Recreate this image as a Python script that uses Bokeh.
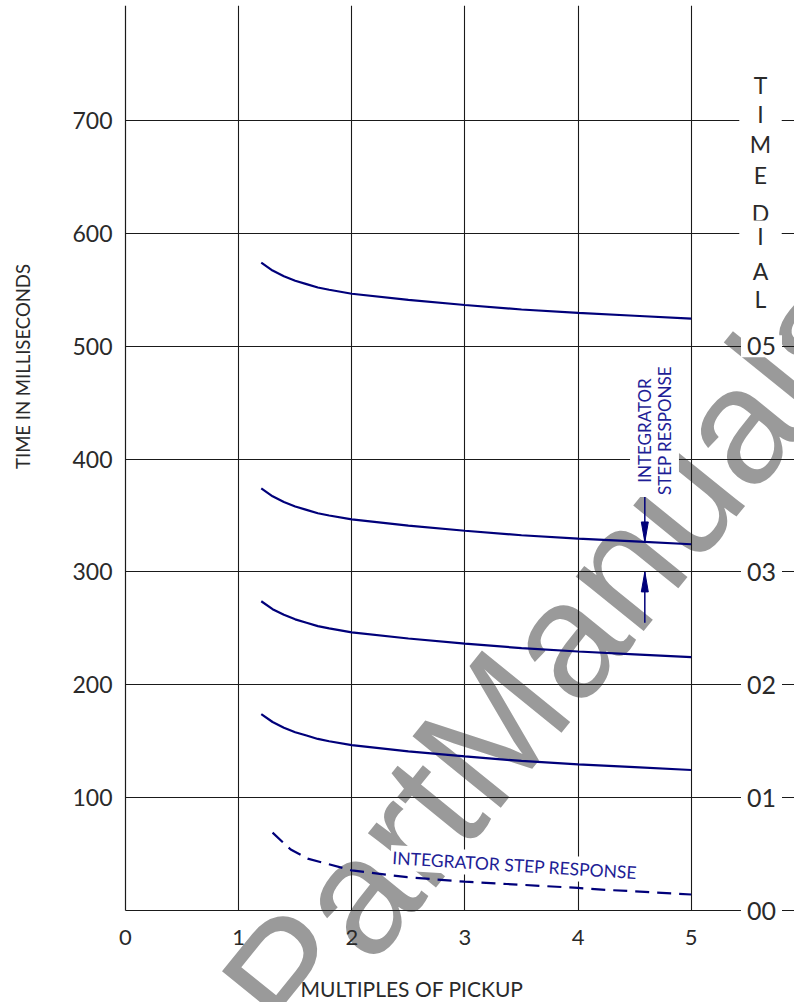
import math
import numpy as np
from bokeh.plotting import figure
from bokeh.models import Range1d, FixedTicker, Label, Grid
from bokeh.embed import file_html
from bokeh.resources import INLINE

# ---------------- data ----------------
multiples = [1.2, 1.3, 1.4, 1.5, 1.6, 1.7, 1.8, 2.0, 2.5, 3.0, 3.5, 4.0, 4.5, 5.0]
time_dial_05 = [574, 567, 562, 558, 555, 552, 550, 546.5, 541, 536.5, 532.5, 529.5, 527, 524.5]
time_dial_03 = [374, 367, 362, 358, 355, 352, 350, 346.5, 341, 336.5, 332.5, 329.5, 327, 324.5]
time_dial_02 = [274, 267, 262, 258, 255, 252, 250, 246.5, 241, 236.5, 232.5, 229.5, 227, 224.5]
time_dial_01 = [174, 167, 162, 158, 155, 152, 150, 146.5, 141, 136.5, 132.5, 129.5, 127, 124.5]

step_multiples = [1.3, 1.46, 1.61, 2.0, 2.49, 3.0, 3.37, 4.0, 4.26, 4.5, 5.0]
step_response = [69, 54, 46, 35.5, 29.5, 25.5, 23.5, 20, 18.2, 17, 14.2]

x_ticks = [0, 1, 2, 3, 4, 5]
y_ticks = [100, 200, 300, 400, 500, 600, 700]
y_grid = [0, 100, 200, 300, 400, 500, 600, 700]
x_grid = [1, 2, 3, 4, 5]

dial_values = [0, 100, 200, 300, 500]
dial_labels = ["00", "01", "02", "03", "05"]
dial_title_letters = ["T", "I", "M", "E", "D", "I", "A", "L"]
dial_title_y = [731, 706, 679, 652, 618, 598, 567, 542]

ARROW_X = 4.59
CURVE = "#00007a"
TEXT_BLUE = "#1e1e96"
INK = "#2a2a2a"
FONT = "Lato"

# page geometry: x=0 at px 125, y=0 at px 910
PX_X = 113.14
PX_Y = 1.1286
X0, Y0, W, H, TOP = 125, 910, 794, 1002, 5


def dx(px):
    return (px - X0) / PX_X


def dy(py):
    return (Y0 - py) / PX_Y


X_END = dx(W)
Y_TOP = dy(TOP)

p = figure(width=W, height=H,
           x_range=Range1d(dx(0), X_END), y_range=Range1d(dy(H), Y_TOP),
           output_backend="svg", toolbar_location=None,
           min_border_left=0, min_border_right=0, min_border_top=TOP, min_border_bottom=0)
p.outline_line_color = None
p.background_fill_color = "white"
p.border_fill_color = "white"

# watermark (behind everything)
p.add_layout(Label(x=dx(257), y=dy(1017), text="PartManuals", text_font="Liberation Sans",
                   text_font_size="165px", text_color="#9a9a9a", angle=math.radians(51),
                   text_align="left", text_baseline="alphabetic", level="image"))

# axes placed at the origin
p.xaxis.fixed_location = 0
p.xaxis.ticker = FixedTicker(ticks=x_ticks)
p.xaxis.axis_line_color = None
p.xaxis.major_tick_line_color = None
p.xaxis.minor_tick_line_color = None
p.xaxis.major_label_standoff = 13
p.xaxis.major_label_text_font = FONT
p.xaxis.major_label_text_font_size = "22px"
p.xaxis.major_label_text_color = INK

p.yaxis.fixed_location = 0
p.yaxis.bounds = (0, Y_TOP)
p.yaxis.ticker = FixedTicker(ticks=y_ticks)
p.yaxis.axis_line_color = "#1a1a1a"
p.yaxis.axis_line_width = 1.2
p.yaxis.major_tick_line_color = None
p.yaxis.minor_tick_line_color = None
p.yaxis.major_label_standoff = 7
p.yaxis.major_label_text_font = FONT
p.yaxis.major_label_text_font_size = "23px"
p.yaxis.major_label_text_color = INK

# grid limited to the chart area
if "cross_bounds" in Grid.properties():
    p.xgrid.ticker = FixedTicker(ticks=x_grid)
    p.ygrid.ticker = FixedTicker(ticks=y_grid)
    p.xgrid.cross_bounds = (0, Y_TOP)
    p.ygrid.cross_bounds = (0, X_END)
    p.grid.grid_line_color = "#1a1a1a"
    p.grid.grid_line_alpha = 1.0
    p.grid.grid_line_width = 1.1
else:
    p.grid.visible = False
    p.segment(x0=x_grid, y0=[0] * len(x_grid), x1=x_grid, y1=[Y_TOP] * len(x_grid),
              line_color="#1a1a1a", line_width=1.1)
    p.segment(x0=[0] * len(y_grid), y0=y_grid, x1=[X_END] * len(y_grid), y1=y_grid,
              line_color="#1a1a1a", line_width=1.1)

# curves
for series in (time_dial_05, time_dial_03, time_dial_02, time_dial_01):
    p.line(multiples, series, line_color=CURVE, line_width=2.2)
p.line(step_multiples, step_response, line_color=CURVE, line_width=2.2, line_dash="14 8")

# dimension arrows showing the integrator step response
tip_top = float(np.interp(ARROW_X, multiples, time_dial_03))
tip_bottom = float(y_ticks[2])
head_len = 20 / PX_Y
head_half = 3.5 / PX_X
p.segment(x0=[ARROW_X, ARROW_X], y0=[tip_top + 48, tip_bottom - 45],
          x1=[ARROW_X, ARROW_X], y1=[tip_top, tip_bottom], line_color=CURVE, line_width=1.5)
p.patches(xs=[[ARROW_X, ARROW_X - head_half, ARROW_X + head_half],
              [ARROW_X, ARROW_X - head_half, ARROW_X + head_half]],
          ys=[[tip_top, tip_top + head_len, tip_top + head_len],
              [tip_bottom, tip_bottom - head_len, tip_bottom - head_len]],
          fill_color=CURVE, line_color=CURVE, line_width=1)

# right-hand time dial scale
for v, t in zip(dial_values, dial_labels):
    p.add_layout(Label(x=dx(761), y=v, text=t, text_font=FONT, text_font_size="25px",
                       text_color=INK, text_align="center", text_baseline="middle",
                       background_fill_color="white", padding=(6, 2)))
for yv, t in zip(dial_title_y, dial_title_letters):
    p.add_layout(Label(x=dx(760), y=yv, text=t, text_font=FONT, text_font_size="23px",
                       text_color=INK, text_align="center", text_baseline="middle",
                       background_fill_color="white", padding=(18, 1)))

# annotations
p.add_layout(Label(x=dx(654), y=dy(430), text="INTEGRATOR\nSTEP RESPONSE", text_font=FONT,
                   text_font_size="17px", text_line_height=0.95, text_color=TEXT_BLUE,
                   text_align="center", text_baseline="middle", angle=math.pi / 2,
                   background_fill_color="white", padding=(2, 4)))
p.add_layout(Label(x=dx(390), y=dy(857), text="INTEGRATOR   STEP   RESPONSE", text_font=FONT,
                   text_font_size="17.5px", text_color=TEXT_BLUE, text_align="left",
                   text_baseline="alphabetic", angle=-math.radians(3.5),
                   background_fill_color="white", padding=(2, 2)))

# axis titles
p.add_layout(Label(x=dx(22), y=dy(366), text="TIME IN MILLISECONDS", text_font=FONT,
                   text_font_size="18.5px", text_color=INK, text_align="center",
                   text_baseline="middle", angle=math.pi / 2))
p.add_layout(Label(x=dx(411.5), y=dy(988), text="MULTIPLES OF PICKUP", text_font=FONT,
                   text_font_size="21px", text_color=INK, text_align="center",
                   text_baseline="middle"))

open("out.html", "w").write(file_html(p, INLINE))
